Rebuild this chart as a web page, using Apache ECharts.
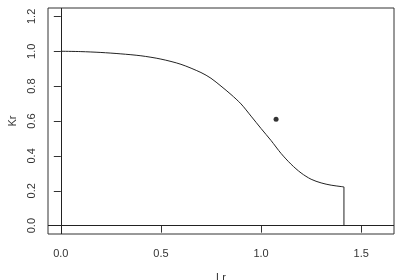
<!DOCTYPE html>
<html><head><meta charset="utf-8">
<script src="https://cdn.jsdelivr.net/npm/echarts@6/dist/echarts.min.js"></script>
<style>html,body{margin:0;padding:0;background:#fff}#c{width:400px;height:280px}</style>
</head><body><div id="c"></div>
<script>
var lrValues = [0, 0.1, 0.2, 0.3, 0.4, 0.5, 0.6, 0.7, 0.75, 0.8, 0.85, 0.9, 0.95, 1.0, 1.05, 1.1, 1.15, 1.2, 1.25, 1.3, 1.35, 1.4, 1.414];
var krValues = [1.0, 0.998, 0.993, 0.985, 0.974, 0.955, 0.925, 0.878, 0.845, 0.80, 0.752, 0.698, 0.628, 0.557, 0.488, 0.414, 0.352, 0.302, 0.266, 0.245, 0.232, 0.224, 0.222];
var cutoffLr = [1.414, 1.414];
var cutoffKr = [0.222, 0];
var pointLr = [1.075];
var pointKr = [0.61];
var xTicks = [0, 0.5, 1.0, 1.5];
var yTicks = [0, 0.2, 0.4, 0.6, 0.8, 1.0, 1.2];

var curve = lrValues.map(function (x, i) { return [x, krValues[i]]; });
var cutoff = cutoffLr.map(function (x, i) { return [x, cutoffKr[i]]; });
var pts = pointLr.map(function (x, i) { return [x, pointKr[i]]; });
var font = 'Liberation Sans, Arial, sans-serif';
var txt = '#333';

var chart = echarts.init(document.getElementById('c'), null, {renderer: 'canvas'});
chart.setOption({
  animation: false,
  grid: {left: 48, right: 6, top: 8, bottom: 46, containLabel: false, outerBoundsMode: 'none',
    show: true, borderColor: '#333', borderWidth: 1, backgroundColor: 'transparent'},
  xAxis: {
    type: 'value', min: -0.064, max: 1.664,
    name: 'Lr', nameLocation: 'middle', nameGap: 38,
    nameTextStyle: {fontFamily: font, fontSize: 11, color: txt},
    axisLine: {show: false},
    splitLine: {show: false},
    axisTick: {show: true, inside: false, length: 7, customValues: xTicks, lineStyle: {color: '#333'}},
    axisLabel: {show: true, customValues: xTicks, margin: 14, fontFamily: font, fontSize: 11, color: txt,
      formatter: function (v) { return v.toFixed(1); }}
  },
  yAxis: {
    type: 'value', min: -0.048, max: 1.248,
    name: 'Kr', nameLocation: 'middle', nameGap: 30,
    nameTextStyle: {fontFamily: font, fontSize: 11, color: txt},
    axisLine: {show: false},
    splitLine: {show: false},
    axisTick: {show: true, inside: false, length: 7, customValues: yTicks, lineStyle: {color: '#333'}},
    axisLabel: {show: true, customValues: yTicks, rotate: 90, margin: 11, fontFamily: font, fontSize: 11, color: txt,
      formatter: function (v) { return v.toFixed(1); }}
  },
  series: [
    {
      type: 'line', data: curve, showSymbol: false, symbol: 'none', smooth: 0.3,
      lineStyle: {color: '#222', width: 1}, z: 3,
      markLine: {
        silent: true, symbol: 'none', label: {show: false},
        lineStyle: {color: '#222', width: 1, type: 'solid'},
        data: [{xAxis: 0}, {yAxis: 0}]
      }
    },
    {
      type: 'line', data: cutoff, showSymbol: false, symbol: 'none',
      lineStyle: {color: '#222', width: 1}, z: 3
    },
    {
      type: 'scatter', data: pts, symbol: 'circle', symbolSize: 5,
      itemStyle: {color: '#000'}, z: 4
    }
  ]
});
</script></body></html>
